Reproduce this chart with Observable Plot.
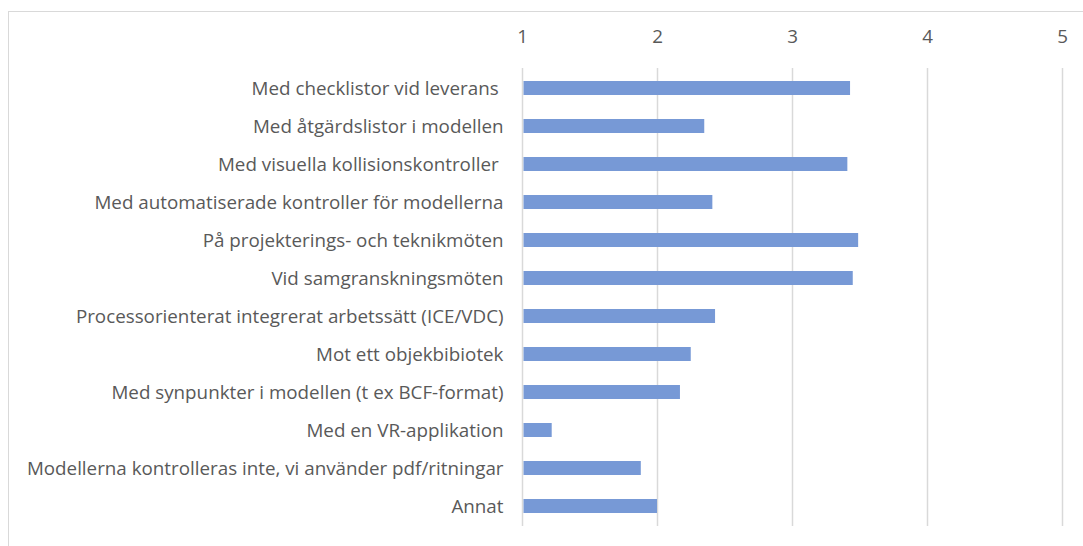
<!DOCTYPE html>
<html>
<head>
<meta charset="utf-8">
<script src="https://cdn.jsdelivr.net/npm/d3@7"></script>
<script src="https://cdn.jsdelivr.net/npm/@observablehq/plot@0.6"></script>
<style>
  html, body { margin: 0; padding: 0; background: #fff; overflow: hidden; }
  #wrap { position: relative; width: 1083px; height: 546px; }
  #frame { position: absolute; left: 8px; top: 11px; width: 1200px; height: 700px;
           border-top: 1.5px solid #d9d9d9; border-left: 1.5px solid #d9d9d9; }
  #chart { position: absolute; left: 0; top: 0; }
</style>
</head>
<body>
<div id="wrap"><div id="frame"></div><div id="chart"></div></div>
<script>
const categories = [
  "Med checklistor vid leverans ",
  "Med åtgärdslistor i modellen",
  "Med visuella kollisionskontroller ",
  "Med automatiserade kontroller för modellerna",
  "På projekterings- och teknikmöten",
  "Vid samgranskningsmöten",
  "Processorienterat integrerat arbetssätt (ICE/VDC)",
  "Mot ett objekbibiotek",
  "Med synpunkter i modellen (t ex BCF-format)",
  "Med en VR-applikation",
  "Modellerna kontrolleras inte, vi använder pdf/ritningar",
  "Annat"
];
const values = [3.43, 2.35, 3.41, 2.41, 3.49, 3.45, 2.43, 2.25, 2.17, 1.22, 1.88, 2.0];
const xTicks = [1, 2, 3, 4, 5];

const data = categories.map((c, i) => ({category: c, value: values[i]}));

const chart = Plot.plot({
  width: 1083,
  height: 546,
  marginLeft: 522,
  marginRight: 21,
  marginTop: 68,
  marginBottom: 20,
  style: {fontFamily: "'Open Sans', sans-serif", fontSize: "18.8px", color: "#595959", background: "transparent"},
  x: {domain: [1, 5], ticks: xTicks, axis: "top", tickSize: 0, tickPadding: 26, tickFormat: d => String(d), label: null},
  y: {domain: categories, padding: 0, tickSize: 0, tickPadding: 19, label: null},
  marks: [
    Plot.ruleX(xTicks, {x: d => d, stroke: "#d9d9d9", strokeWidth: 1.5}),
    Plot.barX(data, {x1: 1, x2: "value", y: "category", fill: "#7799d6", insetTop: 12, insetBottom: 12, insetLeft: 1.5})
  ]
});
document.getElementById("chart").appendChild(chart);
</script>
</body>
</html>
